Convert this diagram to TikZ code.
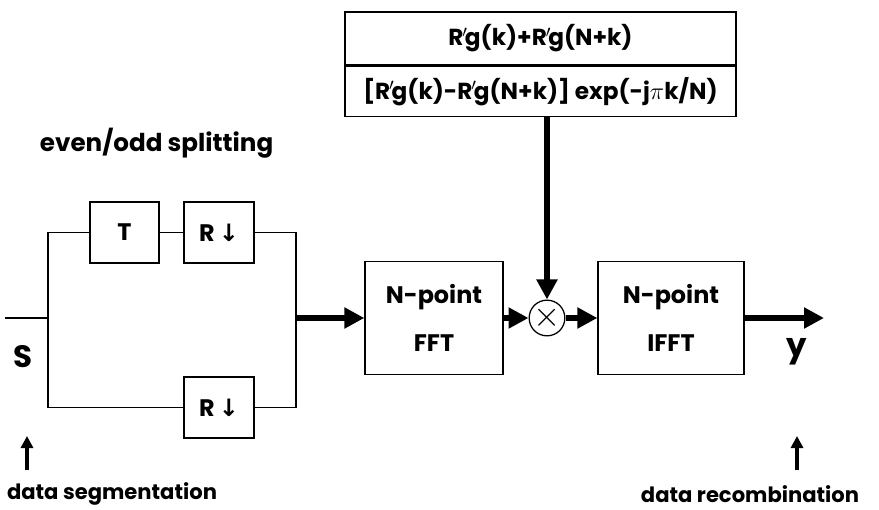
\documentclass[tikz,border=0pt]{standalone}
\usepackage{fontspec}
\setmainfont{Poppins}
\newfontfamily\arrowfont{DejaVu Sans}
\usepackage{tikz}
\usetikzlibrary{positioning}
\usetikzlibrary{arrows.meta}
\tikzstyle{block}=[draw,line width=0.9pt,inner sep=0pt,align=center,font=\fontsize{17}{34}\selectfont\bfseries]
\tikzstyle{thin edge}=[line width=0.9pt]
\tikzstyle{signal edge}=[line width=4.2pt,-{Triangle[length=0.5cm,width=0.5cm]}]
\tikzstyle{pointer edge}=[line width=3pt,-{Triangle[length=0.3cm,width=0.3cm]}]
\tikzstyle{caption}=[font=\fontsize{15}{18}\selectfont\bfseries]
\tikzstyle{factor}=[font=\fontsize{16.5}{20}\selectfont\bfseries]
\newcommand{\blocknode}[4][]{
  \node [block, minimum width=#3*0.025cm, minimum height=#4*0.025cm, #1] (#2)
}
\newcommand{\downsample}{R\,{\arrowfont ↓}}
\newcommand{\rpg}{R\kern-0.05em$'$\kern-0.12em g}

\begin{document}
\begin{tikzpicture}[x=0.025cm,y=-0.025cm]
        \useasboundingbox (0,0) rectangle (879,510);
        % splitting branches
        \blocknode[at={(124.5,232.5)}]{delay}{69}{61} {T};
        \blocknode[at={(219,232.5)}]{downtop}{70}{61} {\downsample};
        \blocknode[at={(219,407.5)}]{downbot}{70}{61} {\downsample};
        \node [caption, font=\fontsize{17.5}{20}\selectfont\bfseries, anchor=west] (split) at (35,143) {even/odd splitting};
        % transforms
        \blocknode[at={(434,318)}]{fft}{138}{113} {N-point\\FFT};
        \blocknode[at={(671,318)}]{ifft}{146}{113} {N-point\\IFFT};
        \node [draw, circle, line width=0.9pt, minimum size=32*0.025cm, inner sep=0pt,
               font=\fontsize{26}{26}\selectfont] (mult) at (547,318) {$\times$};
        % weighting factors
        \blocknode[at={(540.5,38.5)}, factor]{wsum}{391}{53} {\rpg(k)+\rpg(N+k)};
        \blocknode[below=0pt of wsum, factor]{wdiff}{391}{50} {[\rpg(k)-\rpg(N+k)] exp(-j$\pi$k/N)};
        % signal labels
        \node [font=\fontsize{22}{24}\selectfont\bfseries] (s) at (23,357) {S};
        \node [font=\fontsize{23}{24}\selectfont\bfseries] (y) at (797,352) {y};
        \node [caption] (seg) at (112,494) {data segmentation};
        \node [caption] (rec) at (750,494) {data recombination};
        \coordinate (in) at (5,318);
        \coordinate (fork) at (48,318);
        \coordinate (join) at (296,318);
        \coordinate (out) at (824,318);
        \coordinate (segfoot) at (27,470);
        \coordinate (segtip) at (27,436);
        \coordinate (recfoot) at (797,470);
        \coordinate (rectip) at (797,436);

                    \draw[thin edge] (in) -- (fork);
                    \draw[thin edge] (delay.west) -| (fork) |- (downbot.west);
                    \draw[thin edge] (delay.east) -- (downtop.west);
                    \draw[thin edge] (downtop.east) -| (join) |- (downbot.east);

            \draw[signal edge] (join) -- (fft.west);
            \draw[signal edge] (fft.east) -- (mult.west);
            \draw[signal edge] (mult.east) -- (ifft.west);
            \draw[signal edge] (ifft.east) -- (out);
            \draw[signal edge] (wdiff.south -| mult) -- (mult.north);

            \draw[pointer edge] (segfoot) -- (segtip);
            \draw[pointer edge] (recfoot) -- (rectip);
        \end{tikzpicture}
\end{document}
